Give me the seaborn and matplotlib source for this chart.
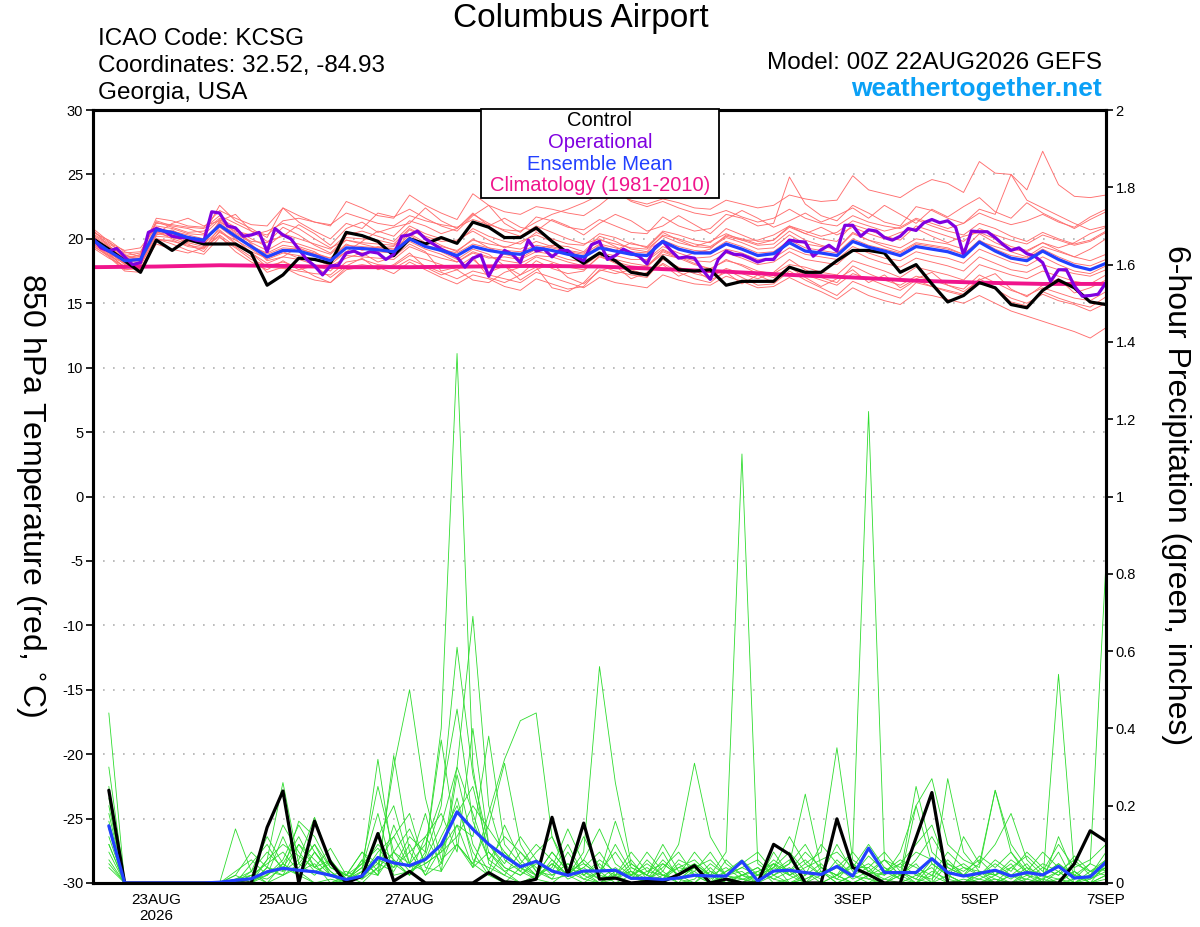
import numpy as np
import pandas as pd
import seaborn as sns
import matplotlib
matplotlib.use("Agg")
import matplotlib.pyplot as plt
from matplotlib.patches import Rectangle

# x axis: days after 00Z 22AUG2026
tick_days = [1, 3, 5, 7, 10, 12, 14, 16]
tick_labels = ["23AUG\n2026", "25AUG", "27AUG", "29AUG", "1SEP", "3SEP", "5SEP", "7SEP"]

# 850 hPa temperature, 6-hourly (65 values, t = 0 .. 16 days)
control_temp = [
    20.0, 19.2, 18.3, 17.4, 19.9, 19.1, 19.95, 19.6,
    19.6, 19.6, 18.9, 16.4, 17.2, 18.5, 18.4, 18.1,
    20.5, 20.25, 19.8, 18.7, 20.0, 19.6, 20.1, 19.65,
    21.3, 20.9, 20.1, 20.1, 20.85, 19.8, 18.9, 18.1,
    18.9, 18.3, 17.4, 17.2, 18.6, 17.6, 17.5, 17.6,
    16.4, 16.7, 16.7, 16.7, 17.8, 17.4, 17.4, 18.3,
    19.1, 19.1, 18.9, 17.4, 18.0, 16.5, 15.1, 15.6,
    16.6, 16.2, 14.9, 14.65, 16.0, 16.8, 16.2, 15.1, 14.9]

mean_temp = [
    19.9, 19.05, 18.3, 18.4, 20.7, 20.5, 20.1, 19.9,
    21.05, 20.2, 19.4, 18.6, 19.1, 19.05, 18.7, 18.3,
    19.3, 19.25, 19.15, 19.0, 20.0, 19.4, 19.1, 18.7,
    19.4, 19.1, 18.9, 18.8, 19.3, 19.1, 18.8, 18.6,
    19.3, 19.05, 18.8, 18.7, 19.8, 19.2, 18.9, 18.9,
    19.6, 19.2, 18.7, 18.85, 19.7, 19.05, 18.9, 18.7,
    19.8, 19.35, 19.05, 18.7, 19.4, 19.2, 19.0, 18.6,
    19.75, 19.05, 18.5, 18.3, 19.05, 18.4, 17.9, 17.6, 18.1]

# operational run, 3-hourly (129 values)
oper_temp = [
    20.0, 19.3, 19.05, 19.25, 18.6, 18.0, 18.15, 20.5,
    20.8, 20.6, 20.2, 20.1, 20.1, 19.9, 19.8, 22.1,
    22.0, 21.0, 20.85, 20.2, 20.3, 20.5, 19.0, 20.8,
    20.3, 20.0, 19.2, 18.4, 17.9, 17.2, 17.9, 17.95,
    18.9, 19.05, 18.75, 19.0, 18.9, 18.4, 18.8, 20.2,
    20.3, 20.6, 20.0, 19.6, 19.2, 18.9, 18.6, 17.8,
    18.5, 18.75, 17.1, 18.25, 19.1, 18.8, 18.15, 19.9,
    19.05, 19.2, 18.6, 19.1, 19.1, 18.6, 18.3, 19.55,
    19.8, 18.4, 18.7, 19.2, 18.9, 18.65, 18.05, 19.35,
    19.8, 19.1, 18.5, 18.6, 18.5, 17.6, 16.85, 18.4,
    19.05, 18.8, 18.75, 18.5, 18.2, 18.4, 18.4, 19.25,
    19.9, 19.8, 19.75, 18.65, 19.15, 19.5, 19.05, 21.05,
    21.05, 20.2, 20.7, 20.6, 20.1, 19.9, 20.2, 20.8,
    20.65, 21.25, 21.5, 21.25, 21.4, 20.9, 18.75, 20.6,
    20.55, 20.55, 20.1, 19.55, 19.1, 19.3, 18.85, 18.65,
    18.15, 16.7, 17.6, 17.6, 16.35, 15.55, 15.6, 15.7, 16.6]

# climatology (1981-2010), daily
clim_temp = [17.8, 17.85, 17.95, 17.9, 17.8, 17.8, 17.85, 17.9, 17.85,
             17.65, 17.45, 17.2, 17.0, 16.75, 16.6, 16.5, 16.5]

# ensemble members, 6-hourly
member_temp = {
    "m01": [20.4, 19.6, 18.9, 19.0, 21.2, 21.1, 20.9, 20.8,
            21.8, 21.2, 20.6, 20.3, 21.4, 21.6, 21.3, 21.0,
            22.9, 22.4, 21.8, 21.6, 23.4, 22.6, 22.0, 21.5,
            23.5, 22.6, 22.1, 21.9, 22.5, 22.3, 22.0, 21.8,
            22.6, 23.6, 23.0, 22.7, 23.1, 22.8, 22.4, 22.3,
            23.0, 22.7, 22.4, 22.6, 23.4, 23.1, 22.9, 23.0,
            24.9, 23.8, 23.5, 23.2, 24.0, 24.6, 24.3, 23.6,
            26.0, 25.1, 25.0, 23.8, 26.8, 24.2, 23.3, 23.2, 23.4],
    "m02": [20.8, 19.8, 18.6, 18.7, 21.4, 21.0, 20.8, 20.4,
            22.6, 21.4, 20.8, 20.1, 22.4, 21.3, 20.6, 20.0,
            21.2, 20.8, 22.0, 21.7, 22.3, 21.6, 21.0, 20.6,
            21.8, 22.6, 21.2, 20.5, 21.7, 21.4, 20.9, 20.7,
            21.5, 21.0, 20.5, 20.4, 21.7, 21.0, 20.6, 20.8,
            21.9, 21.6, 21.0, 21.2, 24.8, 22.7, 21.8, 21.4,
            22.6, 22.0, 21.3, 21.0, 22.5, 22.2, 21.6, 21.2,
            22.3, 21.9, 25.0, 23.0, 22.4, 21.8, 21.2, 20.7, 21.0],
    "m03": [20.1, 19.3, 18.5, 18.6, 21.0, 20.8, 20.4, 20.3,
            21.5, 20.7, 20.0, 19.4, 20.4, 20.0, 19.6, 19.2,
            20.3, 20.6, 20.2, 19.8, 21.0, 20.4, 20.0, 19.7,
            20.8, 20.2, 19.8, 19.6, 20.5, 20.0, 19.6, 19.5,
            20.4, 20.1, 19.6, 19.4, 20.6, 20.3, 19.9, 19.7,
            20.8, 20.3, 19.8, 19.9, 20.9, 20.4, 20.0, 19.8,
            21.1, 20.7, 20.2, 19.9, 21.0, 20.6, 20.2, 19.8,
            20.8, 20.3, 19.9, 19.6, 20.3, 19.9, 19.5, 19.8, 20.5],
    "m04": [19.6, 18.8, 17.8, 17.9, 20.2, 20.1, 19.8, 19.6,
            20.7, 19.7, 18.9, 18.1, 18.6, 18.4, 18.0, 17.5,
            18.7, 18.6, 18.5, 18.4, 19.4, 18.9, 18.5, 18.2,
            19.0, 18.6, 18.3, 18.1, 18.7, 18.6, 18.2, 17.9,
            18.8, 18.4, 18.1, 17.9, 19.1, 18.6, 18.3, 18.2,
            18.9, 18.5, 18.0, 18.2, 19.0, 18.4, 18.2, 18.0,
            19.1, 18.5, 18.1, 17.8, 18.5, 18.2, 17.9, 17.5,
            18.6, 18.1, 17.6, 17.4, 18.0, 17.6, 17.3, 17.1, 17.6],
    "m05": [19.5, 18.6, 17.5, 17.4, 20.0, 19.8, 19.5, 19.3,
            20.3, 19.4, 18.6, 17.4, 17.8, 17.2, 16.8, 16.6,
            17.6, 17.8, 17.9, 17.7, 18.4, 17.9, 17.4, 16.9,
            17.5, 17.2, 16.9, 16.6, 17.4, 17.0, 16.6, 16.2,
            17.0, 16.6, 16.4, 16.2, 17.2, 16.8, 16.5, 16.4,
            17.1, 16.7, 16.2, 16.3, 17.0, 16.4, 15.9, 15.3,
            16.2, 15.6, 15.2, 14.9, 15.8, 15.6, 15.3, 15.0,
            15.6, 15.0, 14.4, 14.0, 13.6, 13.2, 12.8, 12.3, 13.1],
    "m06": [19.8, 19.0, 18.0, 18.2, 20.4, 20.2, 19.7, 19.4,
            20.5, 19.9, 19.2, 18.4, 18.9, 18.7, 18.4, 18.0,
            19.0, 18.9, 18.2, 18.6, 19.6, 19.0, 17.5, 17.8,
            18.6, 17.0, 16.6, 17.2, 17.8, 16.2, 15.9, 16.6,
            17.9, 17.5, 17.2, 17.0, 18.4, 17.8, 17.3, 17.0,
            17.7, 17.3, 16.9, 17.4, 18.4, 17.6, 17.0, 16.6,
            17.9, 17.3, 16.8, 16.4, 17.1, 16.8, 16.4, 16.1,
            17.2, 16.6, 16.0, 15.6, 16.2, 15.8, 15.4, 15.2, 15.9],
    "m07": [20.6, 19.7, 19.1, 19.3, 20.9, 20.4, 19.9, 19.7,
            21.3, 20.6, 20.3, 20.6, 21.2, 20.8, 20.0, 19.3,
            19.9, 19.6, 19.3, 19.4, 20.7, 20.1, 19.5, 19.0,
            20.0, 19.3, 18.8, 18.5, 19.2, 19.5, 19.4, 19.0,
            20.2, 19.8, 19.2, 19.0, 20.3, 20.0, 19.6, 19.4,
            20.2, 19.9, 19.5, 19.6, 20.6, 19.9, 19.5, 19.2,
            20.5, 19.9, 19.4, 19.0, 19.7, 19.5, 19.3, 18.8,
            19.8, 19.4, 19.0, 18.6, 19.4, 19.0, 18.6, 19.2, 20.0],
    "m08": [19.4, 18.7, 17.6, 17.7, 19.9, 19.9, 19.4, 19.2,
            20.9, 20.0, 18.9, 17.8, 17.7, 17.5, 17.3, 17.2,
            18.2, 18.4, 18.0, 17.9, 18.7, 18.4, 18.0, 17.6,
            16.8, 16.6, 17.4, 17.8, 18.6, 18.2, 17.8, 17.6,
            18.6, 18.2, 17.9, 17.8, 19.0, 18.5, 18.0, 17.7,
            18.3, 18.0, 17.5, 17.3, 18.0, 17.8, 17.4, 17.2,
            18.3, 17.9, 17.5, 17.0, 17.8, 17.5, 17.2, 16.8,
            18.0, 17.6, 17.2, 16.9, 17.5, 17.1, 16.7, 16.5, 17.2],
    "m09": [20.2, 19.4, 18.7, 18.9, 21.6, 21.4, 21.0, 20.9,
            22.2, 21.6, 21.1, 21.0, 22.4, 21.8, 21.3, 21.1,
            22.0, 21.6, 21.2, 21.0, 21.8, 21.4, 21.1, 20.9,
            21.5, 21.1, 20.7, 20.6, 21.3, 21.9, 22.3, 22.8,
            23.4, 23.7, 22.9, 22.5, 22.9, 22.4, 22.0, 21.8,
            22.2, 21.7, 21.3, 21.6, 22.3, 21.6, 21.2, 21.0,
            21.8, 21.3, 21.0, 20.8, 21.5, 21.0, 20.6, 20.3,
            21.2, 20.8, 20.2, 19.8, 20.5, 20.0, 19.6, 19.9, 20.6],
    "m10": [19.7, 18.9, 18.1, 18.0, 20.5, 20.3, 19.9, 19.8,
            21.0, 20.1, 19.4, 18.9, 19.5, 19.3, 18.8, 18.5,
            19.6, 19.1, 19.4, 19.2, 20.3, 19.5, 19.0, 18.4,
            19.2, 18.8, 17.9, 17.2, 18.3, 17.7, 17.3, 17.5,
            18.7, 18.1, 17.6, 17.2, 18.1, 17.4, 16.9, 16.6,
            17.6, 17.0, 16.4, 16.5, 17.5, 16.8, 16.2, 15.6,
            16.7, 16.2, 15.8, 15.4, 16.6, 16.3, 16.0, 15.7,
            16.9, 16.2, 15.1, 14.8, 15.9, 15.4, 15.0, 14.7, 15.5],
    "m11": [20.0, 19.2, 18.4, 18.5, 20.8, 20.6, 20.3, 20.0,
            21.2, 20.4, 19.7, 19.1, 19.8, 19.6, 19.2, 18.8,
            19.9, 19.7, 19.6, 19.5, 20.4, 19.7, 19.4, 19.1,
            19.9, 19.6, 19.4, 19.2, 19.8, 19.4, 19.1, 18.9,
            19.9, 19.6, 19.3, 19.2, 20.2, 19.7, 19.4, 19.3,
            20.1, 19.7, 19.2, 19.3, 20.3, 19.6, 19.4, 19.2,
            20.4, 19.9, 19.6, 19.3, 20.0, 19.8, 19.6, 19.2,
            20.4, 19.7, 19.2, 19.0, 19.7, 19.1, 18.6, 18.3, 18.8],
    "m12": [19.8, 19.1, 18.2, 18.3, 20.6, 20.4, 20.0, 19.9,
            21.1, 20.3, 19.5, 18.8, 19.3, 19.2, 18.9, 18.5,
            19.5, 19.4, 19.3, 19.2, 20.1, 19.5, 19.2, 18.9,
            19.6, 19.3, 19.1, 19.0, 19.5, 19.3, 19.0, 18.8,
            19.6, 19.3, 19.0, 18.9, 19.9, 19.4, 19.1, 19.0,
            19.8, 19.4, 18.9, 19.0, 19.9, 19.3, 19.1, 18.9,
            20.0, 19.5, 19.2, 18.9, 19.6, 19.4, 19.2, 18.8,
            19.9, 19.2, 18.7, 18.5, 19.2, 18.6, 18.1, 17.9, 18.4],
    "m13": [20.5, 19.9, 19.0, 18.6, 20.4, 21.2, 21.6, 21.0,
            21.4, 21.9, 20.6, 19.8, 20.2, 21.1, 20.4, 19.5,
            20.8, 21.3, 20.5, 20.9, 21.2, 22.4, 21.4, 20.8,
            22.0, 21.0, 21.6, 20.9, 20.6, 21.5, 21.0, 20.3,
            21.2, 21.9, 21.4, 20.6, 21.0, 21.8, 21.1, 20.4,
            21.5, 22.2, 21.6, 20.9, 21.4, 22.0, 21.3, 21.8,
            22.4, 21.6, 22.6, 21.9, 21.2, 22.3, 21.7, 22.5,
            23.2, 22.1, 21.6, 22.8, 22.0, 21.4, 20.8, 21.5, 22.1],
    "m14": [19.3, 18.5, 17.9, 17.6, 19.6, 19.2, 18.9, 19.3,
            20.2, 19.0, 18.2, 17.6, 18.3, 17.6, 17.9, 17.0,
            17.9, 18.5, 17.6, 18.0, 18.9, 17.8, 17.2, 17.6,
            18.4, 17.4, 17.9, 16.8, 17.6, 18.1, 17.0, 16.5,
            17.5, 17.9, 16.9, 17.4, 18.0, 17.1, 17.6, 16.8,
            17.4, 16.5, 17.2, 16.6, 17.8, 17.0, 16.3, 16.9,
            17.6, 16.6, 17.2, 16.2, 16.9, 17.4, 16.4, 15.9,
            16.8, 17.3, 16.1, 15.5, 16.4, 16.9, 15.8, 16.2, 16.8],
    "m15": [20.3, 19.5, 18.4, 18.8, 21.3, 20.9, 20.5, 20.6,
            21.6, 20.9, 19.6, 18.3, 18.6, 19.4, 19.0, 18.2,
            19.0, 19.8, 20.6, 20.2, 21.4, 21.0, 20.4, 20.8,
            21.9, 21.2, 20.6, 20.2, 21.0, 20.5, 20.0, 19.6,
            20.0, 19.4, 18.8, 18.3, 19.2, 18.6, 18.1, 17.6,
            18.4, 17.9, 17.3, 17.0, 17.8, 17.2, 16.8, 16.4,
            17.3, 16.9, 16.4, 16.0, 16.8, 16.3, 15.9, 15.6,
            16.6, 16.1, 15.4, 15.0, 15.7, 15.2, 14.9, 14.4, 15.0],
    "m16": [19.9, 18.9, 17.7, 18.1, 20.0, 19.6, 19.1, 18.8,
            20.1, 19.3, 18.4, 17.9, 18.2, 17.8, 17.1, 16.6,
            17.8, 18.0, 17.8, 17.3, 18.2, 17.6, 17.0, 16.5,
            17.2, 16.9, 16.3, 16.0, 16.9, 16.5, 16.1, 16.3,
            17.6, 17.3, 17.6, 17.9, 18.8, 18.5, 18.9, 19.2,
            20.3, 20.0, 19.6, 19.9, 21.0, 20.6, 20.2, 20.5,
            21.4, 21.0, 20.6, 20.9, 21.6, 21.2, 20.8, 21.2,
            22.0, 21.5, 21.1, 21.4, 21.9, 21.3, 20.9, 21.7, 22.3],
    "m17": [20.7, 19.4, 18.8, 18.2, 20.3, 20.7, 20.0, 19.5,
            21.4, 20.5, 19.8, 19.7, 20.9, 20.3, 19.5, 18.9,
            20.1, 20.0, 19.9, 19.6, 20.8, 20.2, 19.8, 19.9,
            20.6, 19.9, 19.3, 19.8, 20.3, 19.8, 19.0, 18.6,
            19.5, 19.1, 19.7, 19.3, 20.5, 19.9, 19.4, 19.8,
            20.4, 19.9, 19.9, 20.3, 21.0, 20.4, 20.9, 20.3,
            20.9, 20.4, 20.0, 20.5, 20.8, 20.2, 19.7, 20.2,
            20.5, 20.0, 19.4, 19.1, 19.7, 19.3, 19.7, 20.4, 20.9],
    "m18": [19.6, 18.7, 18.1, 18.5, 20.6, 20.0, 19.6, 19.0,
            20.6, 19.6, 19.0, 18.5, 19.0, 18.5, 18.4, 17.9,
            18.5, 18.9, 19.0, 18.9, 19.8, 19.2, 18.8, 18.2,
            18.9, 18.5, 18.6, 18.4, 19.0, 18.8, 18.4, 18.2,
            18.9, 18.7, 18.4, 18.4, 19.4, 18.9, 18.5, 18.6,
            19.2, 18.9, 18.4, 18.5, 19.3, 18.8, 18.6, 18.4,
            19.4, 18.9, 18.5, 18.3, 19.0, 18.7, 18.5, 18.1,
            19.2, 18.7, 18.2, 17.9, 18.6, 18.0, 17.5, 17.3, 17.9],
}

# 6-hour precipitation (inches), 64 values, t = 6h .. 16 days
control_precip = [
    0.24, 0.0, 0.0, 0.0, 0.0, 0.0, 0.0, 0.0,
    0.0, 0.0, 0.144, 0.238, 0.0, 0.16, 0.054, 0.0,
    0.018, 0.128, 0.005, 0.03, 0.0, 0.0, 0.0, 0.0,
    0.027, 0.003, 0.0, 0.01, 0.17, 0.02, 0.155, 0.01,
    0.013, 0.0, 0.004, 0.004, 0.022, 0.045, 0.0, 0.01,
    0.0, 0.0, 0.1, 0.074, 0.0, 0.0, 0.166, 0.04,
    0.022, 0.0, 0.0, 0.117, 0.234, 0.0, 0.0, 0.0,
    0.0, 0.0, 0.0, 0.0, 0.0, 0.05, 0.135, 0.108]

mean_precip = [
    0.148, 0.0, 0.0, 0.0, 0.0, 0.0, 0.0, 0.002,
    0.007, 0.011, 0.029, 0.038, 0.033, 0.029, 0.02, 0.009,
    0.018, 0.066, 0.052, 0.045, 0.061, 0.099, 0.184, 0.139,
    0.1, 0.069, 0.042, 0.056, 0.031, 0.02, 0.031, 0.031,
    0.033, 0.012, 0.012, 0.009, 0.013, 0.02, 0.018, 0.018,
    0.056, 0.005, 0.031, 0.033, 0.027, 0.022, 0.043, 0.018,
    0.09, 0.027, 0.027, 0.027, 0.063, 0.027, 0.018, 0.025,
    0.033, 0.018, 0.027, 0.021, 0.043, 0.013, 0.016, 0.054]

member_precip = {
    "m01": [0.30, 0.0, 0.0, 0.0, 0.0, 0.0, 0.0, 0.0,
            0.0, 0.02, 0.05, 0.08, 0.03, 0.0, 0.0, 0.01,
            0.04, 0.10, 0.06, 0.02, 0.08, 0.40, 1.37, 0.30,
            0.05, 0.02, 0.0, 0.01, 0.0, 0.03, 0.01, 0.0,
            0.02, 0.0, 0.01, 0.03, 0.0, 0.05, 0.02, 0.0,
            0.01, 0.0, 0.02, 0.04, 0.0, 0.0, 0.02, 0.0,
            0.0, 0.03, 0.01, 0.0, 0.05, 0.02, 0.0, 0.01,
            0.0, 0.02, 0.0, 0.01, 0.0, 0.03, 0.0, 0.02],
    "m02": [0.44, 0.0, 0.0, 0.0, 0.0, 0.0, 0.0, 0.0,
            0.01, 0.03, 0.12, 0.05, 0.02, 0.0, 0.01, 0.0,
            0.06, 0.02, 0.15, 0.05, 0.03, 0.12, 0.20, 0.08,
            0.02, 0.0, 0.04, 0.01, 0.06, 0.02, 0.0, 0.03,
            0.0, 0.02, 0.0, 0.01, 0.06, 0.04, 0.02, 0.08,
            1.11, 0.05, 0.02, 0.0, 0.01, 0.03, 0.0, 0.02,
            0.0, 0.01, 0.03, 0.0, 0.02, 0.0, 0.01, 0.0,
            0.02, 0.0, 0.01, 0.0, 0.03, 0.0, 0.01, 0.03],
    "m03": [0.15, 0.0, 0.0, 0.0, 0.0, 0.0, 0.0, 0.0,
            0.0, 0.0, 0.02, 0.06, 0.15, 0.08, 0.03, 0.0,
            0.02, 0.05, 0.03, 0.10, 0.02, 0.05, 0.15, 0.04,
            0.08, 0.03, 0.0, 0.02, 0.05, 0.01, 0.03, 0.0,
            0.01, 0.03, 0.0, 0.02, 0.01, 0.0, 0.04, 0.0,
            0.02, 0.0, 0.05, 0.03, 0.0, 0.02, 0.04, 0.08,
            1.22, 0.06, 0.02, 0.0, 0.03, 0.01, 0.0, 0.02,
            0.0, 0.04, 0.02, 0.0, 0.01, 0.03, 0.0, 0.01],
    "m04": [0.22, 0.0, 0.0, 0.0, 0.0, 0.0, 0.0, 0.0,
            0.14, 0.03, 0.0, 0.05, 0.02, 0.08, 0.03, 0.0,
            0.03, 0.02, 0.08, 0.05, 0.18, 0.03, 0.10, 0.05,
            0.02, 0.08, 0.03, 0.01, 0.05, 0.02, 0.08, 0.56,
            0.26, 0.05, 0.02, 0.08, 0.01, 0.03, 0.0, 0.02,
            0.0, 0.03, 0.01, 0.0, 0.02, 0.05, 0.01, 0.0,
            0.02, 0.0, 0.03, 0.01, 0.0, 0.05, 0.02, 0.0,
            0.01, 0.0, 0.03, 0.02, 0.0, 0.01, 0.05, 0.83],
    "m05": [0.18, 0.0, 0.0, 0.0, 0.0, 0.0, 0.0, 0.0,
            0.0, 0.05, 0.10, 0.03, 0.16, 0.12, 0.04, 0.02,
            0.05, 0.25, 0.08, 0.03, 0.06, 0.15, 0.30, 0.69,
            0.20, 0.06, 0.03, 0.08, 0.12, 0.04, 0.02, 0.05,
            0.01, 0.04, 0.02, 0.0, 0.02, 0.08, 0.03, 0.01,
            0.0, 0.02, 0.05, 0.0, 0.01, 0.03, 0.0, 0.02,
            0.04, 0.0, 0.02, 0.05, 0.0, 0.02, 0.0, 0.03,
            0.0, 0.02, 0.05, 0.0, 0.54, 0.03, 0.0, 0.02],
    "m06": [0.08, 0.0, 0.0, 0.0, 0.0, 0.0, 0.0, 0.0,
            0.0, 0.0, 0.04, 0.02, 0.10, 0.04, 0.09, 0.02,
            0.01, 0.04, 0.30, 0.50, 0.22, 0.06, 0.10, 0.04,
            0.18, 0.32, 0.42, 0.44, 0.12, 0.02, 0.06, 0.14,
            0.05, 0.02, 0.08, 0.03, 0.10, 0.31, 0.12, 0.05,
            0.02, 0.04, 0.0, 0.01, 0.03, 0.0, 0.02, 0.05,
            0.01, 0.0, 0.02, 0.03, 0.0, 0.27, 0.08, 0.03,
            0.01, 0.0, 0.02, 0.01, 0.03, 0.0, 0.02, 0.04],
    "m07": [0.12, 0.0, 0.0, 0.0, 0.0, 0.0, 0.0, 0.0,
            0.0, 0.01, 0.06, 0.26, 0.05, 0.02, 0.06, 0.01,
            0.03, 0.32, 0.05, 0.02, 0.07, 0.20, 0.61, 0.28,
            0.10, 0.04, 0.02, 0.05, 0.03, 0.10, 0.02, 0.0,
            0.03, 0.01, 0.06, 0.02, 0.0, 0.01, 0.05, 0.02,
            0.03, 0.0, 0.08, 0.02, 0.05, 0.08, 0.35, 0.06,
            0.03, 0.01, 0.0, 0.02, 0.04, 0.0, 0.12, 0.05,
            0.24, 0.10, 0.04, 0.0, 0.12, 0.02, 0.0, 0.05],
    "m08": [0.10, 0.0, 0.0, 0.0, 0.0, 0.0, 0.0, 0.0,
            0.02, 0.08, 0.04, 0.03, 0.06, 0.17, 0.05, 0.0,
            0.06, 0.02, 0.33, 0.08, 0.02, 0.09, 0.15, 0.12,
            0.38, 0.10, 0.05, 0.02, 0.04, 0.14, 0.05, 0.02,
            0.16, 0.04, 0.02, 0.10, 0.03, 0.05, 0.02, 0.0,
            0.02, 0.01, 0.03, 0.05, 0.23, 0.04, 0.02, 0.0,
            0.02, 0.04, 0.01, 0.20, 0.05, 0.02, 0.0, 0.03,
            0.02, 0.05, 0.0, 0.02, 0.01, 0.0, 0.03, 0.02],
    "m09": [0.20, 0.0, 0.0, 0.0, 0.0, 0.0, 0.0, 0.0,
            0.0, 0.0, 0.03, 0.02, 0.04, 0.10, 0.02, 0.03,
            0.01, 0.06, 0.04, 0.12, 0.08, 0.37, 0.10, 0.05,
            0.15, 0.31, 0.10, 0.03, 0.02, 0.05, 0.01, 0.03,
            0.08, 0.02, 0.04, 0.01, 0.05, 0.02, 0.0, 0.06,
            0.02, 0.03, 0.05, 0.02, 0.0, 0.04, 0.02, 0.08,
            0.03, 0.06, 0.02, 0.25, 0.08, 0.04, 0.02, 0.05,
            0.10, 0.18, 0.06, 0.02, 0.08, 0.0, 0.02, 0.06],
    "m10": [0.05, 0.0, 0.0, 0.0, 0.0, 0.0, 0.0, 0.0,
            0.0, 0.02, 0.01, 0.04, 0.02, 0.08, 0.02, 0.01,
            0.04, 0.18, 0.02, 0.03, 0.05, 0.08, 0.22, 0.06,
            0.04, 0.02, 0.08, 0.04, 0.01, 0.02, 0.06, 0.02,
            0.10, 0.03, 0.0, 0.05, 0.02, 0.04, 0.0, 0.02,
            0.01, 0.0, 0.04, 0.12, 0.05, 0.02, 0.10, 0.03,
            0.05, 0.02, 0.08, 0.20, 0.27, 0.10, 0.06, 0.04,
            0.24, 0.08, 0.03, 0.02, 0.05, 0.02, 0.01, 0.04],
    "m11": [0.25, 0.0, 0.0, 0.0, 0.0, 0.0, 0.0, 0.0,
            0.0, 0.0, 0.06, 0.10, 0.07, 0.04, 0.02, 0.0,
            0.02, 0.12, 0.20, 0.05, 0.10, 0.22, 0.45, 0.16,
            0.06, 0.03, 0.05, 0.10, 0.06, 0.02, 0.04, 0.01,
            0.02, 0.06, 0.01, 0.04, 0.08, 0.02, 0.0, 0.03,
            0.05, 0.08, 0.03, 0.06, 0.02, 0.10, 0.05, 0.02,
            0.07, 0.03, 0.05, 0.10, 0.15, 0.04, 0.02, 0.07,
            0.04, 0.08, 0.02, 0.05, 0.03, 0.06, 0.02, 0.08],
    "m12": [0.16, 0.0, 0.0, 0.0, 0.0, 0.0, 0.0, 0.0,
            0.03, 0.06, 0.02, 0.12, 0.03, 0.05, 0.0, 0.02,
            0.08, 0.05, 0.12, 0.18, 0.04, 0.03, 0.28, 0.10,
            0.03, 0.15, 0.06, 0.02, 0.08, 0.03, 0.12, 0.04,
            0.02, 0.08, 0.03, 0.02, 0.01, 0.04, 0.06, 0.02,
            0.04, 0.02, 0.06, 0.03, 0.08, 0.04, 0.02, 0.04,
            0.10, 0.04, 0.02, 0.06, 0.12, 0.05, 0.03, 0.06,
            0.02, 0.04, 0.07, 0.03, 0.10, 0.04, 0.06, 0.10],
    "m13": [0.06, 0.0, 0.0, 0.0, 0.0, 0.0, 0.0, 0.0,
            0.0, 0.03, 0.08, 0.04, 0.10, 0.06, 0.02, 0.0,
            0.02, 0.08, 0.12, 0.04, 0.06, 0.10, 0.18, 0.25,
            0.08, 0.04, 0.02, 0.06, 0.02, 0.05, 0.03, 0.01,
            0.04, 0.01, 0.03, 0.05, 0.02, 0.0, 0.03, 0.01,
            0.02, 0.04, 0.01, 0.03, 0.06, 0.02, 0.04, 0.01,
            0.03, 0.02, 0.05, 0.02, 0.01, 0.06, 0.02, 0.01,
            0.03, 0.01, 0.04, 0.02, 0.05, 0.01, 0.02, 0.04],
    "m14": [0.10, 0.0, 0.0, 0.0, 0.0, 0.0, 0.0, 0.0,
            0.02, 0.0, 0.04, 0.15, 0.08, 0.03, 0.05, 0.02,
            0.0, 0.04, 0.08, 0.14, 0.05, 0.08, 0.12, 0.20,
            0.14, 0.08, 0.04, 0.02, 0.08, 0.03, 0.05, 0.02,
            0.01, 0.05, 0.02, 0.01, 0.04, 0.06, 0.02, 0.04,
            0.01, 0.02, 0.04, 0.08, 0.03, 0.01, 0.06, 0.02,
            0.01, 0.03, 0.06, 0.04, 0.02, 0.08, 0.04, 0.02,
            0.05, 0.02, 0.01, 0.04, 0.02, 0.05, 0.03, 0.06],
    "m15": [0.14, 0.0, 0.0, 0.0, 0.0, 0.0, 0.0, 0.0,
            0.0, 0.01, 0.02, 0.05, 0.12, 0.04, 0.06, 0.01,
            0.05, 0.09, 0.04, 0.08, 0.12, 0.05, 0.30, 0.18,
            0.06, 0.12, 0.08, 0.03, 0.01, 0.08, 0.02, 0.06,
            0.03, 0.02, 0.05, 0.02, 0.04, 0.03, 0.08, 0.02,
            0.04, 0.06, 0.02, 0.05, 0.10, 0.03, 0.01, 0.05,
            0.02, 0.06, 0.04, 0.08, 0.06, 0.03, 0.05, 0.02,
            0.06, 0.03, 0.08, 0.04, 0.02, 0.07, 0.03, 0.05],
    "m16": [0.04, 0.0, 0.0, 0.0, 0.0, 0.0, 0.0, 0.0,
            0.01, 0.02, 0.0, 0.02, 0.05, 0.10, 0.04, 0.02,
            0.08, 0.03, 0.06, 0.02, 0.12, 0.18, 0.08, 0.40,
            0.10, 0.05, 0.12, 0.06, 0.03, 0.02, 0.04, 0.08,
            0.02, 0.03, 0.01, 0.06, 0.02, 0.04, 0.01, 0.03,
            0.06, 0.02, 0.04, 0.02, 0.04, 0.06, 0.08, 0.04,
            0.04, 0.08, 0.03, 0.01, 0.06, 0.02, 0.04, 0.03,
            0.02, 0.06, 0.03, 0.08, 0.04, 0.02, 0.05, 0.03],
}


def members_frame(members, start):
    """
    Long-form DataFrame of ensemble members on a 6-hourly time axis.
    """
    rows = []
    for name, values in members.items():
        days = (np.arange(len(values)) + start) * 0.25
        rows.append(pd.DataFrame({"day": days, "value": values, "member": name}))
    return pd.concat(rows, ignore_index=True)


def series_frame(values, step, start=0):
    return pd.DataFrame({"day": (np.arange(len(values)) + start) * step,
                         "value": values})


sns.set_style("white")
plt.rcParams["font.family"] = ["Liberation Sans", "DejaVu Sans"]
plt.rcParams["text.color"] = "black"
plt.rcParams["xtick.color"] = "black"
plt.rcParams["ytick.color"] = "black"

fig = plt.figure(figsize=(12, 9.27), dpi=100)
ax = fig.add_axes([93 / 1200, 1 - 883 / 927, 1013 / 1200, 773 / 927])
ax2 = ax.twinx()

# temperature (left axis)
sns.lineplot(data=members_frame(member_temp, 0), x="day", y="value",
             units="member", estimator=None, color="#ff6e6e", lw=0.65, ax=ax)
sns.lineplot(data=series_frame(clim_temp, 1.0), x="day", y="value",
             color="#f0148c", lw=2.8, ax=ax)
sns.lineplot(data=series_frame(control_temp, 0.25), x="day", y="value",
             color="black", lw=2.3, ax=ax)
sns.lineplot(data=series_frame(oper_temp, 0.125), x="day", y="value",
             color="#8000e0", lw=2.3, ax=ax)
sns.lineplot(data=series_frame(mean_temp, 0.25), x="day", y="value",
             color="#2240ff", lw=2.3, ax=ax)

# precipitation (right axis)
sns.lineplot(data=members_frame(member_precip, 1), x="day", y="value",
             units="member", estimator=None, color="#2edc2e", lw=0.6, ax=ax2)
sns.lineplot(data=series_frame(control_precip, 0.25, 1), x="day", y="value",
             color="black", lw=2.3, ax=ax2)
sns.lineplot(data=series_frame(mean_precip, 0.25, 1), x="day", y="value",
             color="#2240ff", lw=2.3, ax=ax2)

ax.set_xlim(0, 16)
ax.set_ylim(-30, 30)
ax2.set_ylim(0, 2)
ax.set_yticks(np.arange(-30, 31, 5))
ax.set_yticklabels([str(v) for v in range(-30, 31, 5)], fontsize=10.5)
ax2.set_yticks(np.arange(0, 2.01, 0.2))
ax2.set_yticklabels(["0", "0.2", "0.4", "0.6", "0.8", "1", "1.2", "1.4",
                     "1.6", "1.8", "2"], fontsize=10.5)
ax.set_xticks(tick_days)
ax.set_xticklabels(tick_labels, fontsize=11, linespacing=1.25)
for a in (ax, ax2):
    a.tick_params(direction="out", length=5, width=1.2, color="black",
                  labelcolor="black", pad=2)
    a.set_xlabel("")
    a.set_ylabel("")
    for s in a.spines.values():
        s.set_linewidth(2.2)
        s.set_color("black")

for v in range(-25, 30, 5):
    ax.axhline(v, color="#b0b0b0", lw=1.2, ls=(0, (1, 5)), zorder=0)

fig.text(30 / 1200, 1 - 495 / 927, "850 hPa Temperature (red, $^{\\circ}$C)",
         rotation=270, fontsize=23, ha="center", va="center")
fig.text(1176 / 1200, 1 - 495 / 927, "6-hour Precipitation (green, inches)",
         rotation=270, fontsize=23, ha="center", va="center")

# header
fig.text(581 / 1200, 1 - 18 / 927, "Columbus Airport", fontsize=24,
         ha="center", va="center")
for i, line in enumerate(["ICAO Code: KCSG", "Coordinates: 32.52, -84.93",
                          "Georgia, USA"]):
    fig.text(98 / 1200, 1 - (39 + 27 * i) / 927, line, fontsize=17.5,
             ha="left", va="center")
fig.text(1102 / 1200, 1 - 63 / 927, "Model: 00Z 22AUG2026 GEFS", fontsize=17.5,
         ha="right", va="center")
fig.text(1102 / 1200, 1 - 89 / 927, "weathertogether.net", fontsize=19,
         fontweight="bold", color="#0aa0f6", ha="right", va="center")

# legend box
fig.patches.append(Rectangle((481 / 1200, 1 - 198 / 927), 238 / 1200, 89 / 927,
                             transform=fig.transFigure, facecolor="white",
                             edgecolor="black", lw=1.3, zorder=5))
legend_items = [("Control", "black"), ("Operational", "#8000e0"),
                ("Ensemble Mean", "#2240ff"),
                ("Climatology (1981-2010)", "#f0148c")]
for i, (label, colour) in enumerate(legend_items):
    fig.text(600 / 1200, 1 - (121 + 21.5 * i) / 927, label, fontsize=14.5,
             color=colour, ha="center", va="center", zorder=6)

fig.savefig("out.png", dpi=100)
